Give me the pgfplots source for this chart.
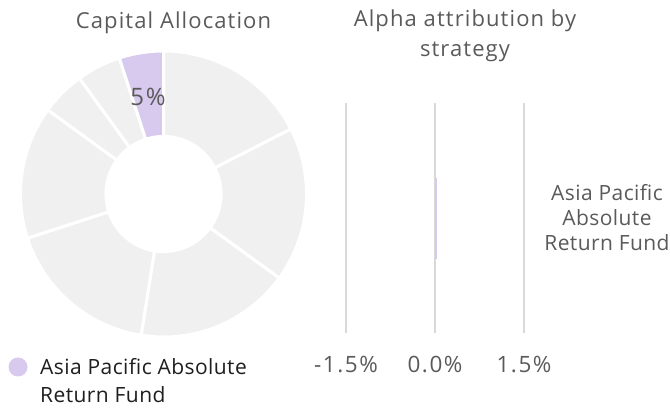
\documentclass[border=0pt]{standalone}
\usepackage{pgfplots}
\pgfplotsset{compat=1.18}
\usepackage{fontspec}
\setmainfont{Open Sans}
\newfontfamily\tfont[LetterSpace=5]{Open Sans}
\newfontfamily\kfont[LetterSpace=7]{Open Sans}
\newfontfamily\lfont[LetterSpace=2]{Open Sans}
\definecolor{seg}{HTML}{F0F0F0}
\definecolor{apac}{HTML}{D8C9EF}
\definecolor{gridc}{HTML}{D9D9D9}
\definecolor{txt}{HTML}{5A5A5A}
\definecolor{dark}{HTML}{1E1E1E}
\begin{document}
\begin{tikzpicture}
\useasboundingbox (0pt,0pt) rectangle (670pt,410pt);
% Donut: shares 17.5,17.5,17.5,17.5,15,5,5,5 (%), clockwise from top
\begin{axis}[at={(163.5pt,216pt)}, anchor=center, width=286pt, height=286pt,
  scale only axis, xmin=-1, xmax=1, ymin=-1, ymax=1, hide axis, clip=false]
\addplot[fill=seg, draw=white, line width=3pt, line join=round, domain=27:90, samples=40] ({cos(x)},{sin(x)}) -- (axis cs:0,0) -- cycle;
\addplot[fill=seg, draw=white, line width=3pt, line join=round, domain=-36:27, samples=40] ({cos(x)},{sin(x)}) -- (axis cs:0,0) -- cycle;
\addplot[fill=seg, draw=white, line width=3pt, line join=round, domain=-99:-36, samples=40] ({cos(x)},{sin(x)}) -- (axis cs:0,0) -- cycle;
\addplot[fill=seg, draw=white, line width=3pt, line join=round, domain=-162:-99, samples=40] ({cos(x)},{sin(x)}) -- (axis cs:0,0) -- cycle;
\addplot[fill=seg, draw=white, line width=3pt, line join=round, domain=-216:-162, samples=40] ({cos(x)},{sin(x)}) -- (axis cs:0,0) -- cycle;
\addplot[fill=seg, draw=white, line width=3pt, line join=round, domain=-234:-216, samples=20] ({cos(x)},{sin(x)}) -- (axis cs:0,0) -- cycle;
\addplot[fill=seg, draw=white, line width=3pt, line join=round, domain=-252:-234, samples=20] ({cos(x)},{sin(x)}) -- (axis cs:0,0) -- cycle;
\addplot[fill=apac, draw=white, line width=3pt, line join=round, domain=-270:-252, samples=20] ({cos(x)},{sin(x)}) -- (axis cs:0,0) -- cycle;
\addplot[fill=white, draw=none, domain=0:360, samples=120] ({0.413*cos(x)},{0.413*sin(x)}) -- cycle;
\node[text=txt, font=\kfont\fontsize{24}{28}\selectfont] at (axis cs:{0.69*cos(99)},{0.69*sin(99)}) {5\%};
\end{axis}
% Bar chart
\begin{axis}[at={(346pt,77pt)}, anchor=south west, width=178pt, height=230pt,
  scale only axis, xmin=-1.5, xmax=1.5, ymin=-0.5, ymax=0.5,
  xbar, bar width=81pt, axis line style={draw=none}, major tick length=0pt,
  xtick={-1.5,0,1.5}, xticklabels={-1.5\%,0.0\%,1.5\%},
  xmajorgrids, grid style={gridc, line width=1.5pt},
  ytick={0}, yticklabels={{Asia Pacific\\Absolute\\Return Fund}},
  yticklabel pos=right,
  xticklabel style={font=\kfont\fontsize{22.5}{26}\selectfont, text=txt, anchor=center, yshift=-32pt},
  yticklabel style={font=\lfont\fontsize{21}{25}\selectfont, text=txt, anchor=center, align=center, xshift=83pt},
  clip=false]
\addplot[fill=apac, draw=none] coordinates {(0.04,0)};
\end{axis}
% Titles
\node[text=txt, font=\tfont\fontsize{22}{30}\selectfont] at (173.5pt,387pt) {Capital Allocation};
\node[text=txt, font=\tfont\fontsize{22}{30}\selectfont, align=center] at (465pt,374pt) {Alpha attribution by\\strategy};
% Legend
\fill[apac] (18pt,43pt) circle (9.5pt);
\node[text=dark, font=\lfont\fontsize{21}{25}\selectfont, anchor=west, inner sep=0pt] at (40pt,43pt) {Asia Pacific Absolute};
\node[text=dark, font=\lfont\fontsize{21}{25}\selectfont, anchor=west, inner sep=0pt] at (40pt,15pt) {Return Fund};
\end{tikzpicture}
\end{document}
